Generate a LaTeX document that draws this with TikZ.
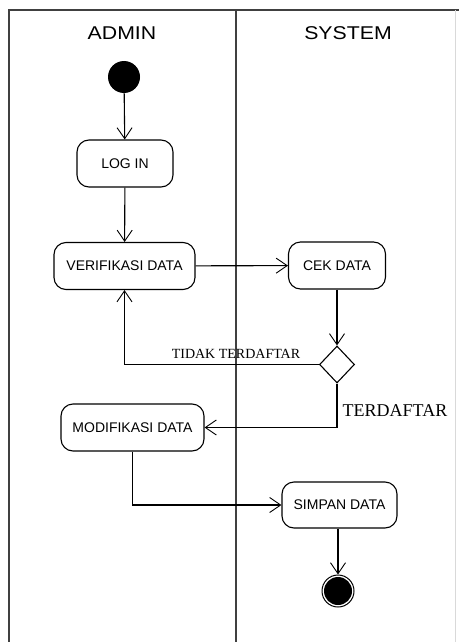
\documentclass[tikz,border=0pt]{standalone}
\usepackage{fontspec}
\setmainfont{Liberation Serif}
\setsansfont{Liberation Sans}
\usetikzlibrary{arrows.meta,shapes.geometric}
\tikzset{
  act/.style={draw, line width=1.1pt, rounded corners=12pt, minimum height=47pt, inner sep=0pt, font=\sffamily\fontsize{14}{16}\selectfont},
  flow/.style={draw, line width=1.1pt, -{Straight Barb[length=11pt,width=15pt,line width=0.9pt]}},
  lane/.style={draw, line width=1.4pt, black!75},
  hdr/.style={font=\sffamily\fontsize{18.5}{20}\selectfont},
  lbl/.style={font=\rmfamily\fontsize{14}{16}\selectfont},
}
\begin{document}
\begin{tikzpicture}[x=1pt,y=-1pt]
\useasboundingbox (0,0) rectangle (459,642);
% swimlanes
\draw[lane] (9,642) -- (9,10) -- (459,10);
\draw[lane] (236,10) -- (236,642);
\draw[black!15, line width=1pt] (455,10) -- (455,642);
\node[hdr] (hadmin) at (122,33) {\scalebox{1.15}[1]{ADMIN}};
\node[hdr] (hsys) at (348,33) {\scalebox{1.15}[1]{SYSTEM}};
% nodes
\node[circle, fill=black, minimum size=32pt, inner sep=0pt] (start) at (124,77) {};
\node[act, minimum width=96pt] (login) at (125,163.5) {LOG IN};
\node[act, minimum width=141pt] (verif) at (124.5,266) {VERIFIKASI DATA};
\node[act, minimum width=97pt] (cek) at (337,265.5) {CEK DATA};
\node[diamond, draw, line width=1.1pt, minimum width=35pt, minimum height=37pt, inner sep=0pt] (dec) at (337,364.5) {};
\node[act, minimum width=143pt] (modif) at (132.5,427.5) {MODIFIKASI DATA};
\node[act, minimum width=115pt, minimum height=46pt] (simpan) at (339.5,505) {SIMPAN DATA};
\node[circle, draw, line width=1pt, minimum size=32pt, inner sep=0pt] (end) at (338,591) {};
\node[circle, fill=black, minimum size=28pt, inner sep=0pt] (endin) at (338,591) {};
% connectors
\draw[flow] (start) -- (login);
\draw[flow] (login) -- (verif);
\draw[flow] (verif) -- (cek);
\draw[flow] (cek.south -| dec.north) -- (dec.north);
\draw[flow] (dec.west) -| (verif.south);
\draw[flow] (dec.south) |- (modif.east);
\draw[flow] (modif.south) |- (simpan.west);
\draw[flow] (simpan.south -| end.north) -- (end.north);
% labels
\node[lbl] (ltidak) at (236,354) {TIDAK TERDAFTAR};
\node[lbl, font=\rmfamily\fontsize{18}{20}\selectfont] (lterd) at (395,411) {TERDAFTAR};
\end{tikzpicture}
\end{document}
